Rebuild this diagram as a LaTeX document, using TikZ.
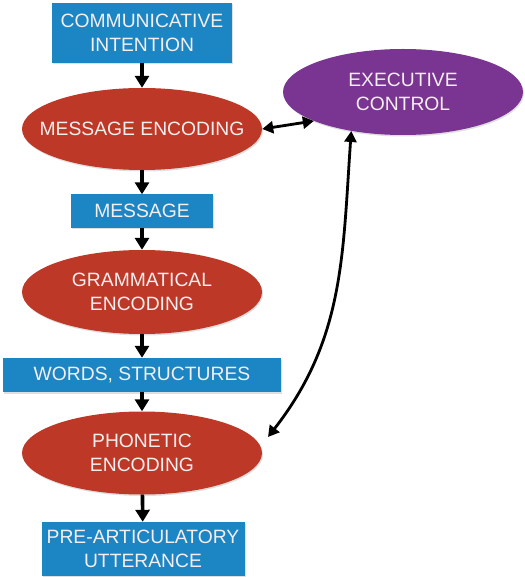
\documentclass[tikz,border=0pt]{standalone}
\usepackage{fontspec}
\setmainfont{Liberation Sans}
\usetikzlibrary{arrows.meta,shapes.geometric,shadows}
\definecolor{boxblue}{RGB}{28,133,195}
\definecolor{encred}{RGB}{190,56,40}
\definecolor{execpurple}{RGB}{122,52,146}
\definecolor{lighttext}{RGB}{244,238,238}
\newcommand{\zl}[1]{\makebox[0pt][c]{#1}}
\tikzset{
  base/.style={text=lighttext, font=\fontsize{19.3}{24}\selectfont, align=center, inner sep=0pt,
    drop shadow={shadow xshift=1pt, shadow yshift=-1.5pt, opacity=0.25}},
  bluebox/.style={base, rectangle, fill=boxblue},
  redell/.style={base, ellipse, fill=encred, minimum width=240pt},
  purpell/.style={base, ellipse, fill=execpurple, minimum width=240pt},
  flow/.style={line width=3.6pt, -{Triangle[length=12pt,width=14pt]}},
  biflow/.style={line width=2.8pt, {Triangle[length=11pt,width=12pt]}-{Triangle[length=11pt,width=12pt]}}
}
\begin{document}
\begin{tikzpicture}[x=1pt,y=-1pt]
\useasboundingbox (0,0) rectangle (524,577);
\node[bluebox, minimum width=180pt, minimum height=60pt] (ci) at (142,33) {\zl{COMMUNICATIVE}\\\zl{INTENTION}};
\node[redell, minimum height=82pt] (me) at (142,129) {\zl{MESSAGE ENCODING}};
\node[purpell, minimum height=86pt] (ec) at (403,92) {\zl{EXECUTIVE}\\\zl{CONTROL}};
\node[bluebox, minimum width=142pt, minimum height=33pt] (msg) at (142,211) {\zl{MESSAGE}};
\node[redell, minimum height=84pt] (ge) at (142,292) {\zl{GRAMMATICAL}\\\zl{ENCODING}};
\node[bluebox, minimum width=278pt, minimum height=34pt] (ws) at (142,375) {\zl{WORDS, STRUCTURES}};
\node[redell, minimum height=83pt] (pe) at (142,453) {\zl{PHONETIC}\\\zl{ENCODING}};
\node[bluebox, minimum width=203pt, minimum height=54pt] (pa) at (143,549) {\zl{PRE-ARTICULATORY}\\\zl{UTTERANCE}};
\coordinate (peEnd) at (268,437);
\draw[flow] (ci) -- (me);
\draw[flow] (me) -- (msg);
\draw[flow] (msg) -- (ge);
\draw[flow] (ge) -- (ws);
\draw[flow] (ws) -- (pe);
\draw[flow] (pe) -- (pa);
\draw[biflow] (me.east) -- (ec.198);
\draw[biflow] (ec.217) to[out=266,in=52] (peEnd);
\end{tikzpicture}
\end{document}
